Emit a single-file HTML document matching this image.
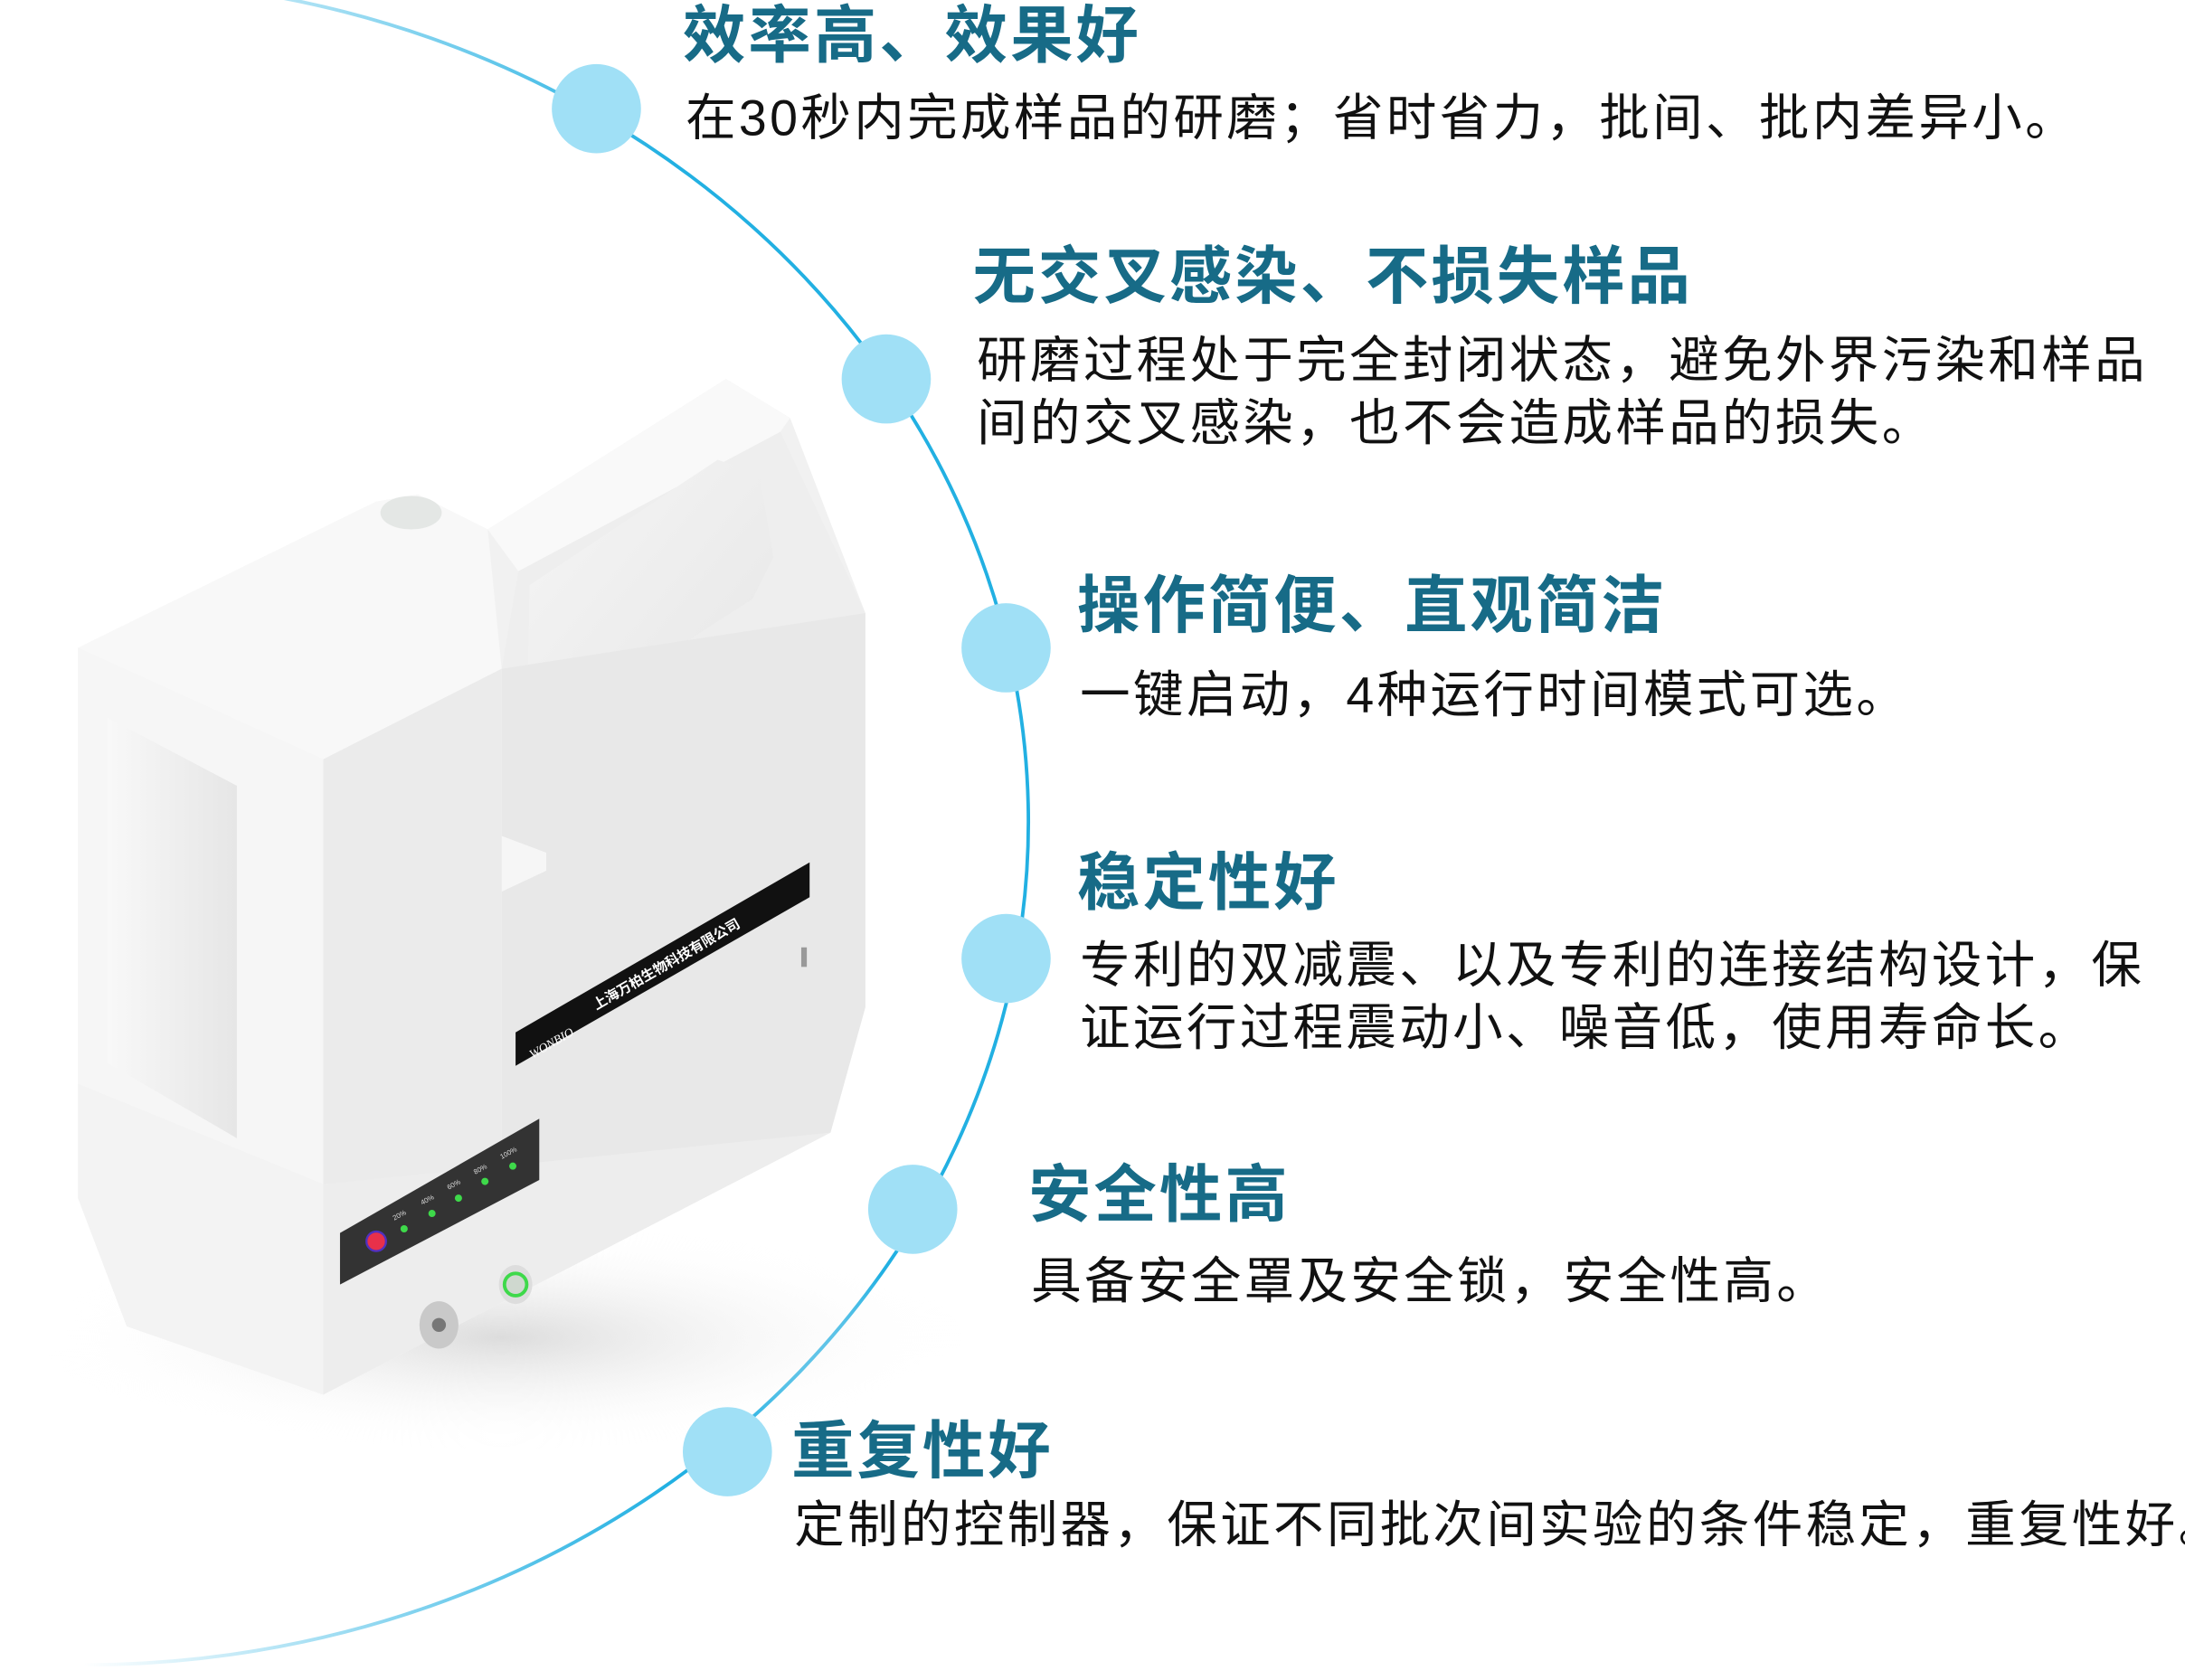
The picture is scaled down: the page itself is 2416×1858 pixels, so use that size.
<!DOCTYPE html>
<html><head><meta charset="utf-8"><style>
html,body{margin:0;padding:0;background:#fff;}
body{width:2416px;height:1857px;overflow:hidden;position:relative;}
#s{position:absolute;left:0;top:0;width:1568px;height:1206px;transform:scale(1.5408);transform-origin:0 0;overflow:hidden;}
.t{position:absolute;font-family:"Liberation Sans","Noto Sans CJK SC",sans-serif;font-weight:bold;font-size:45px;line-height:1;color:#176b87;letter-spacing:2px;white-space:nowrap;}
.b{position:absolute;font-family:"Liberation Sans","Noto Sans CJK SC",sans-serif;font-size:36px;line-height:45px;color:#111;letter-spacing:2.2px;white-space:nowrap;}
</style></head><body><div id="s">
<svg width="1568" height="1206" style="position:absolute;left:0;top:0">
<defs>
<linearGradient id="ag" gradientUnits="userSpaceOnUse" x1="60" y1="0" x2="480" y2="0">
<stop offset="0" stop-color="#22b0e2" stop-opacity="0"/><stop offset="1" stop-color="#22b0e2" stop-opacity="1"/></linearGradient>
<radialGradient id="sh" cx="0.5" cy="0.5" r="0.5"><stop offset="0" stop-color="#dcdcdc"/><stop offset="1" stop-color="#fff" stop-opacity="0"/></radialGradient>
<linearGradient id="win" x1="0" y1="0" x2="1" y2="0"><stop offset="0" stop-color="#f8f8f8"/><stop offset="1" stop-color="#e6e6e6"/></linearGradient>
<linearGradient id="hd" x1="0" y1="0" x2="1" y2="1"><stop offset="0" stop-color="#f5f5f5"/><stop offset="1" stop-color="#e6e6e6"/></linearGradient>
</defs>
<ellipse cx="60" cy="590" rx="678" ry="605" fill="none" stroke="url(#ag)" stroke-width="2.5"/>
<ellipse cx="360" cy="960" rx="330" ry="80" fill="url(#sh)"/>
<polygon points="56,465 270,360 300,355 350,380 521,272 567,300 621,440 621,723 596,813 232,1001 91,952 56,860" fill="#f1f1f1"/>
<polygon points="350,380 521,272 567,300 560,310 372,410" fill="#f9f9f9"/>
<polygon points="372,410 560,310 621,440 360,480" fill="#eeeeee"/>
<polygon points="380,420 515,330 545,340 555,400 540,430 400,520 378,540" fill="url(#hd)"/>
<polygon points="360,480 621,440 621,723 596,813 360,842" fill="#e8e8e8"/>
<polygon points="56,465 270,360 300,355 350,380 360,480 232,545" fill="#f8f8f8"/>
<polygon points="56,465 232,545 232,850 56,778" fill="#f6f6f6"/>
<polygon points="77,515 170,564 170,817 77,763" fill="url(#win)"/>
<polygon points="232,545 360,480 360,842 232,850" fill="#ebebeb"/>
<polygon points="56,778 232,850 360,842 596,813 232,1001 91,952 56,860" fill="#f3f3f3"/>
<polygon points="232,850 596,813 232,1001" fill="#ededed"/>
<polygon points="360,600 392,612 392,625 360,640" fill="#f6f6f6"/>
<ellipse cx="295" cy="368" rx="22" ry="12" fill="#e4e7e5"/>
<polygon points="370,741 581,619 581,644 370,765" fill="#111"/>
<text x="0" y="0" transform="translate(428,725) rotate(-30)" font-family="Liberation Sans,Noto Sans CJK SC,sans-serif" font-size="10" fill="#fff" font-weight="bold">上海万柏生物科技有限公司</text>
<text x="0" y="0" transform="translate(382,760) rotate(-30)" font-family="Liberation Serif,serif" font-size="9" fill="#fff" font-style="italic">WONBIO</text>
<polygon points="244,885 387,803 387,847 244,922" fill="#333"/>
<circle cx="270" cy="891" r="7" fill="#e8304a" stroke="#5030c0" stroke-width="1.5"/>
<g fill="#3ed94a"><circle cx="290" cy="882" r="2.6"/><circle cx="310" cy="871" r="2.6"/><circle cx="329" cy="860" r="2.6"/><circle cx="348" cy="848" r="2.6"/><circle cx="368" cy="837" r="2.6"/></g>
<g font-family="Liberation Sans,sans-serif" font-size="5" fill="#ddd"><text transform="translate(283,876) rotate(-28)">20%</text><text transform="translate(303,865) rotate(-28)">40%</text><text transform="translate(322,854) rotate(-28)">60%</text><text transform="translate(341,843) rotate(-28)">80%</text><text transform="translate(360,832) rotate(-28)">100%</text></g>
<ellipse cx="370" cy="922" rx="12" ry="14" fill="#ddd"/>
<circle cx="370" cy="922" r="8" fill="#cfd8cf" stroke="#3ed94a" stroke-width="2.5"/>
<ellipse cx="315" cy="951" rx="14" ry="17" fill="#c9c9c9"/>
<circle cx="315" cy="951" r="5" fill="#777"/>
<rect x="575" y="680" width="4" height="14" fill="#999"/>
<g fill="#a0e0f6"><circle cx="428" cy="78" r="32"/><circle cx="636" cy="272" r="32"/><circle cx="722" cy="465" r="32"/><circle cx="722" cy="688" r="32"/><circle cx="655" cy="868" r="32"/><circle cx="522" cy="1042" r="32"/></g>
</svg>
<div class="t" style="left:490px;top:3px">效率高、效果好</div>
<div class="b" style="left:492px;top:62px">在30秒内完成样品的研磨；省时省力，批间、批内差异小。</div>
<div class="t" style="left:698px;top:176px">无交叉感染、不损失样品</div>
<div class="b" style="left:701px;top:236px">研磨过程处于完全封闭状态，避免外界污染和样品<br>间的交叉感染，也不会造成样品的损失。</div>
<div class="t" style="left:773px;top:412px">操作简便、直观简洁</div>
<div class="b" style="left:775px;top:476px">一键启动，4种运行时间模式可选。</div>
<div class="t" style="left:773px;top:611px">稳定性好</div>
<div class="b" style="left:775px;top:670px">专利的双减震、以及专利的连接结构设计，保<br>证运行过程震动小、噪音低，使用寿命长。</div>
<div class="t" style="left:738px;top:835px">安全性高</div>
<div class="b" style="left:740px;top:897px">具备安全罩及安全锁，安全性高。</div>
<div class="t" style="left:568px;top:1019px">重复性好</div>
<div class="b" style="left:570px;top:1072px">定制的控制器，保证不同批次间实验的条件稳定，重复性好。</div>
</div></body></html>
